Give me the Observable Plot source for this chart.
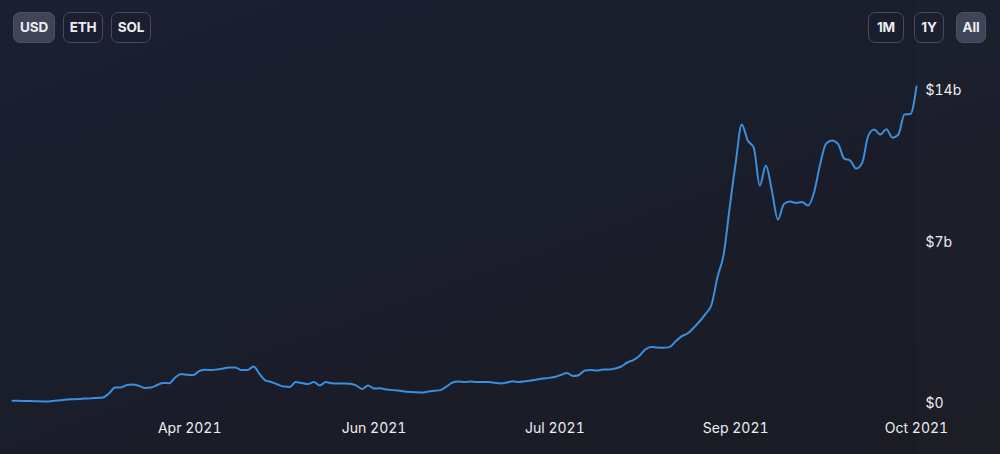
<!DOCTYPE html>
<html>
<head>
<meta charset="utf-8">
<script src="https://cdn.jsdelivr.net/npm/d3@7"></script>
<script src="https://cdn.jsdelivr.net/npm/@observablehq/plot@0.6"></script>
<style>
  html, body { margin: 0; padding: 0; }
  body {
    width: 1000px; height: 454px; overflow: hidden; position: relative;
    background: linear-gradient(160deg, #1e2134 0%, #1c1f2d 45%, #1c1d25 100%);
    font-family: Inter, "Noto Sans", sans-serif; color: #eceef2;
  }
  .shade { position: absolute; left: 0; top: 0; width: 916px; height: 454px; background: rgba(0,0,0,0.045); }
  .bar { position: absolute; top: 12px; display: flex; }
  .bar.left { left: 13px; gap: 8px; }
  .bar.right { left: 868px; }
  .btn {
    box-sizing: border-box; height: 31px; border-radius: 7px; text-align: center;
    border: 1px solid #464b63; font-size: 13.5px; font-weight: 700; line-height: 29px;
    color: #eceef2; background: transparent; letter-spacing: -0.2px;
  }
  .btn.on { background: #3f4458; border-color: #4d5269; }
  #chart { position: absolute; left: 0; top: 55px; }
</style>
</head>
<body>
<div class="shade"></div>
<div class="bar left" id="cur"></div>
<div class="bar right" id="rng"></div>
<div id="chart"></div>
<script>
// Currency and range buttons
const currencies = ["USD", "ETH", "SOL"];
const ranges = ["1M", "1Y", "All"];
const activeCurrency = "USD";
const activeRange = "All";

// Series values in billions of USD, evenly spaced samples (index 0..150)
const values = [
  0.12, 0.12, 0.11, 0.11, 0.10, 0.09, 0.09, 0.12, 0.15, 0.18,
  0.19, 0.20, 0.22, 0.23, 0.25, 0.27, 0.45, 0.72, 0.72, 0.83,
  0.85, 0.79, 0.70, 0.72, 0.83, 0.92, 0.91, 1.17, 1.32, 1.29,
  1.28, 1.46, 1.51, 1.50, 1.53, 1.57, 1.62, 1.62, 1.50, 1.50,
  1.66, 1.32, 1.03, 0.96, 0.85, 0.76, 0.74, 0.96, 0.92, 0.87,
  0.96, 0.81, 0.96, 0.91, 0.90, 0.90, 0.89, 0.81, 0.65, 0.81,
  0.67, 0.68, 0.63, 0.60, 0.58, 0.54, 0.52, 0.50, 0.49, 0.54,
  0.57, 0.60, 0.76, 0.94, 0.99, 0.97, 0.99, 0.96, 0.96, 0.96,
  0.93, 0.90, 0.94, 1.00, 0.96, 1.00, 1.03, 1.08, 1.12, 1.15,
  1.19, 1.28, 1.37, 1.23, 1.28, 1.48, 1.50, 1.48, 1.53, 1.53,
  1.57, 1.66, 1.84, 1.95, 2.13, 2.42, 2.54, 2.51, 2.50, 2.53,
  2.78, 3.01, 3.14, 3.39, 3.68, 4.02, 4.44, 5.70, 6.68, 8.79,
  10.81, 12.52, 11.80, 11.48, 9.78, 10.68, 9.56, 8.25, 8.95, 9.06,
  9.00, 9.04, 8.88, 9.47, 10.72, 11.66, 11.80, 11.64, 10.99, 10.90,
  10.54, 10.81, 12.02, 12.29, 12.07, 12.31, 11.93, 12.07, 12.97, 12.99,
  14.22
];

// X tick positions (sample index) and labels
const xTickIndex = [29.4, 60, 90, 120, 150];
const xTickLabels = ["Apr 2021", "Jun 2021", "Jul 2021", "Sep 2021", "Oct 2021"];

// Y ticks (billions) and labels
const yTicks = [0, 7, 14];
const yTickLabels = ["$0", "$7b", "$14b"];

// Button widths / gaps (layout only)
const curWidths = [42, 40, 40];
const rngWidths = [36, 30, 30];
const rngGaps = [0, 10, 12];

function buttons(id, list, active, widths, gaps) {
  const el = document.getElementById(id);
  list.forEach((t, k) => {
    const b = document.createElement("div");
    b.className = "btn" + (t === active ? " on" : "");
    b.textContent = t;
    b.style.width = widths[k] + "px";
    if (gaps) b.style.marginLeft = gaps[k] + "px";
    el.appendChild(b);
  });
}
buttons("cur", currencies, activeCurrency, curWidths, null);
buttons("rng", ranges, activeRange, rngWidths, rngGaps);

const data = values.map((v, i) => ({i, v}));
const xLabel = new Map(xTickIndex.map((t, k) => [t, xTickLabels[k]]));
const yLabel = new Map(yTicks.map((t, k) => [t, yTickLabels[k]]));

const axisStyle = {tickSize: 0, fontSize: 14, fill: "#eceef2", label: null};

const chart = Plot.plot({
  width: 1000,
  height: 399,
  marginLeft: 12,
  marginRight: 84,
  marginTop: 36,
  marginBottom: 51,
  style: {background: "transparent", color: "#eceef2", fontFamily: "Inter, 'Noto Sans', sans-serif", fontSize: "14px", overflow: "visible"},
  x: {domain: [0, values.length - 1], label: null},
  y: {domain: [0, 14], label: null},
  marks: [
    Plot.axisX(xTickIndex, {...axisStyle, tickPadding: 20, tickFormat: d => xLabel.get(d)}),
    Plot.axisY([0], {...axisStyle, anchor: "right", tickPadding: 9, tickFormat: d => yLabel.get(d), dy: 0.5}),
    Plot.axisY([7], {...axisStyle, anchor: "right", tickPadding: 9, tickFormat: d => yLabel.get(d), dy: -5}),
    Plot.axisY([14], {...axisStyle, anchor: "right", tickPadding: 9, tickFormat: d => yLabel.get(d), dy: -0.5}),
    Plot.line(data, {x: "i", y: "v", stroke: "#3b8fdc", strokeWidth: 2, curve: "monotone-x"})
  ]
});
document.getElementById("chart").appendChild(chart);
</script>
</body>
</html>
